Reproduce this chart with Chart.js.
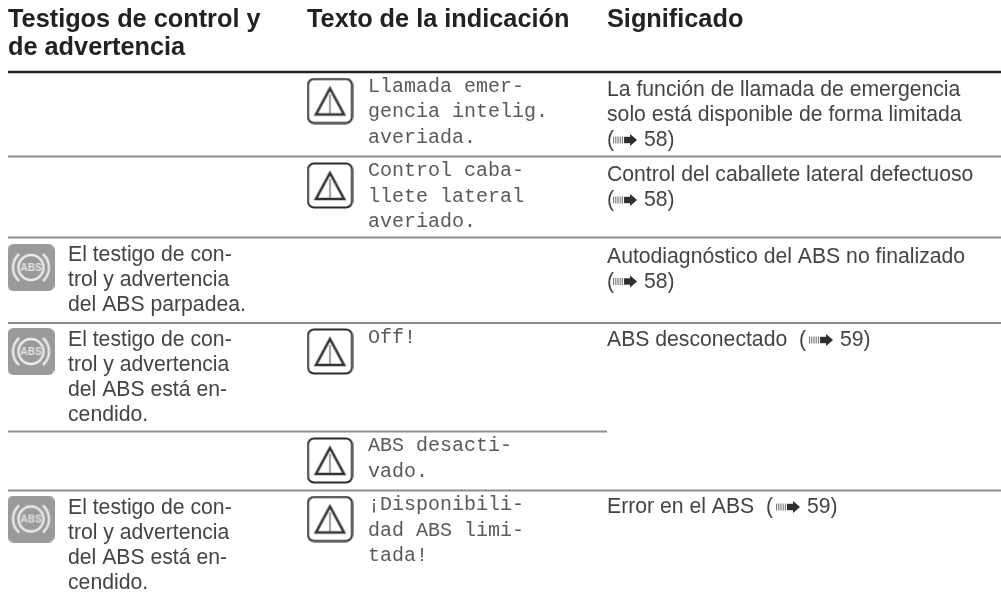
<!DOCTYPE html>
<html lang="es">
<head>
<meta charset="utf-8">
<title>Testigos de control y de advertencia</title>
<script src="https://cdn.jsdelivr.net/npm/chart.js@4/dist/chart.umd.min.js"></script>
<style>
  html, body { margin: 0; padding: 0; background: #fff; }
  canvas { display: block; }
</style>
</head>
<body>
<canvas id="tabla" width="1001" height="597"></canvas>
<script>
const headers = [['Testigos de control y', 'de advertencia'], ['Texto de la indicación'], ['Significado']];

const signals = [
    [],
    [],
    ['El testigo de con-', 'trol y advertencia', 'del ABS parpadea.'],
    ['El testigo de con-', 'trol y advertencia', 'del ABS está en-', 'cendido.'],
    [],
    ['El testigo de con-', 'trol y advertencia', 'del ABS está en-', 'cendido.']
];

const messages = [
    ['Llamada emer-', 'gencia intelig.', 'averiada.'],
    ['Control caba-', 'llete lateral', 'averiado.'],
    [],
    ['Off!'],
    ['ABS desacti-', 'vado.'],
    ['¡Disponibili-', 'dad ABS limi-', 'tada!']
];

const meanings = [
    ['La función de llamada de emergencia', 'solo está disponible de forma limitada', '(➠ 58)'],
    ['Control del caballete lateral defectuoso', '(➠ 58)'],
    ['Autodiagnóstico del ABS no finalizado', '(➠ 58)'],
    ['ABS desconectado  (➠ 59)'],
    [],
    ['Error en el ABS  (➠ 59)']
];

// layout of the page, in scale units (the scales run 1:1 with the picture)
const rowTops = [72, 156.5, 237.5, 323, 431.5, 490.5];
const meaningOffsets = [24, 24.5, 25, 23, 23, 22.5];
const colSignalIcon = 31, colSignalText = 68, colMsgIcon = 330, colMsgText = 368, colMeaning = 607;
const leading = 25;

const warnCanvas = () => {
    const c = document.createElement('canvas');
    c.width = 47; c.height = 47;
    const g = c.getContext('2d');
    g.strokeStyle = '#2b2b2b';
    g.lineWidth = 2;
    g.beginPath();
    g.roundRect(1.5, 1.5, 44, 44, 6);
    g.stroke();
    g.strokeStyle = '#333';
    g.lineWidth = 2.6;
    g.lineJoin = 'miter';
    g.beginPath();
    g.moveTo(23.5, 11);
    g.lineTo(37.5, 37);
    g.lineTo(9.5, 37);
    g.closePath();
    g.stroke();
    g.strokeStyle = '#666';
    g.lineWidth = 1.3;
    g.beginPath();
    g.moveTo(23.5, 17);
    g.lineTo(23.5, 36);
    g.stroke();
    return c;
};

const absCanvas = () => {
    const c = document.createElement('canvas');
    c.width = 47; c.height = 47;
    const g = c.getContext('2d');
    g.fillStyle = '#9a9a9a';
    g.beginPath();
    g.roundRect(0, 0, 47, 47, 6);
    g.fill();
    g.strokeStyle = '#ececec';
    g.lineWidth = 2.4;
    g.beginPath();
    g.arc(23.5, 23.5, 12.5, 0, Math.PI * 2);
    g.stroke();
    g.beginPath();
    g.arc(23.5, 23.5, 18, -0.85, 0.85);
    g.stroke();
    g.beginPath();
    g.arc(23.5, 23.5, 18, Math.PI - 0.85, Math.PI + 0.85);
    g.stroke();
    g.fillStyle = '#e4e4e4';
    g.font = 'bold 10px "Liberation Sans Narrow", "Liberation Sans"';
    g.textAlign = 'center';
    g.textBaseline = 'middle';
    g.fillText('ABS', 23.5, 24);
    return c;
};

const warnPoints = [[0, 29], [1, 29], [3, 28.5], [4, 29], [5, 28.5]].map(([r, d]) => ({ x: colMsgIcon, y: rowTops[r] + d }));
const absPoints = [[2, 30], [3, 28.5], [5, 28.5]].map(([r, d]) => ({ x: colSignalIcon, y: rowTops[r] + d }));

const rule = (x0, x1, y, color, width) => ({
    type: 'line',
    data: [{ x: x0, y }, { x: x1, y }],
    borderColor: color,
    borderWidth: width,
    pointRadius: 0,
    showLine: true
});

// the small striped reference arrow of the manual, drawn where the ➠ sign sits in a line
const drawArrow = (ctx, x, baseline) => {
    const mid = baseline - 6;
    ctx.save();
    ctx.fillStyle = '#777';
    for (let i = 0; i < 5; i++) ctx.fillRect(x + i * 2.2, mid - 3.5, 1.1, 7);
    ctx.fillStyle = '#2e2e2e';
    ctx.fillRect(x + 11, mid - 3.2, 7, 6.4);
    ctx.beginPath();
    ctx.moveTo(x + 17, mid - 6);
    ctx.lineTo(x + 24, mid);
    ctx.lineTo(x + 17, mid + 6);
    ctx.closePath();
    ctx.fill();
    ctx.restore();
};

const drawRef = (ctx, line, x, y) => {
    const parts = line.split('➠');
    ctx.fillText(parts[0], x, y);
    if (parts.length < 2) return;
    const ax = x + ctx.measureText(parts[0]).width + (parts[0].length > 1 ? 3 : -1);
    drawArrow(ctx, ax, y);
    ctx.fillText(parts[1], ax + 25, y);
};

const tablePlugin = {
    id: 'tableText',
    afterDatasetsDraw(chart) {
        const { ctx, scales: { x, y } } = chart;
        ctx.save();
        ctx.textBaseline = 'alphabetic';
        ctx.textAlign = 'left';

        ctx.font = 'bold 25.3px "Liberation Sans"';
        ctx.fillStyle = '#222';
        [8, 307, 607].forEach((cx, c) => {
            headers[c].forEach((line, i) => ctx.fillText(line, x.getPixelForValue(cx), y.getPixelForValue(27 + i * 28)));
        });

        rowTops.forEach((top, r) => {
            ctx.font = '21.2px "Liberation Sans"';
            ctx.fillStyle = '#444';
            signals[r].forEach((line, i) => ctx.fillText(line, x.getPixelForValue(colSignalText), y.getPixelForValue(top + 23 + i * leading)));
            meanings[r].forEach((line, i) => drawRef(ctx, line, x.getPixelForValue(colMeaning), y.getPixelForValue(top + meaningOffsets[r] + i * leading)));
            ctx.font = '20px "Liberation Mono"';
            ctx.fillStyle = '#5a5a5a';
            messages[r].forEach((line, i) => ctx.fillText(line, x.getPixelForValue(colMsgText), y.getPixelForValue(top + 19.5 + i * 25.5)));
        });
        ctx.restore();
    }
};

new Chart(document.getElementById('tabla').getContext('2d'), {
    type: 'scatter',
    data: {
        datasets: [
            rule(8, 1001, rowTops[0], '#222', 2.4),
            rule(8, 1001, rowTops[1], '#8e8e8e', 2),
            rule(8, 1001, rowTops[2], '#8e8e8e', 2),
            rule(8, 1001, rowTops[3], '#8e8e8e', 2),
            rule(8, 607, rowTops[4], '#8e8e8e', 2),
            rule(8, 1001, rowTops[5], '#8e8e8e', 2),
            { data: warnPoints, pointStyle: warnCanvas() },
            { data: absPoints, pointStyle: absCanvas() }
        ]
    },
    options: {
        responsive: false,
        animation: false,
        layout: { padding: 0, autoPadding: false },
        plugins: { legend: { display: false }, tooltip: { enabled: false } },
        scales: {
            x: { type: 'linear', min: 0, max: 1001, display: false },
            y: { type: 'linear', min: 0, max: 597, reverse: true, display: false }
        }
    },
    plugins: [tablePlugin]
});
</script>
</body>
</html>
